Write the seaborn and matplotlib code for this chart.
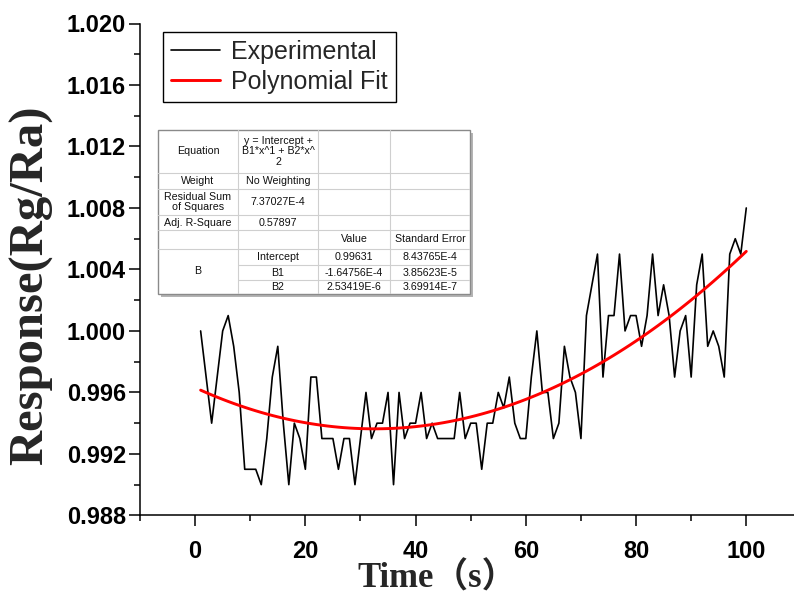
import numpy as np
import pandas as pd
import matplotlib
matplotlib.use("Agg")
import matplotlib.pyplot as plt
import seaborn as sns
from matplotlib.patches import Rectangle
from matplotlib.ticker import MultipleLocator, FormatStrFormatter

# ---------------- data ----------------
time_s = list(range(1, 101))
response = [
    1.000, 0.997, 0.994, 0.997, 1.000, 1.001, 0.999, 0.996, 0.991, 0.991,
    0.991, 0.990, 0.993, 0.997, 0.999, 0.994, 0.990, 0.994, 0.993, 0.991,
    0.997, 0.997, 0.993, 0.993, 0.993, 0.991, 0.993, 0.993, 0.990, 0.993,
    0.996, 0.993, 0.994, 0.994, 0.996, 0.990, 0.996, 0.993, 0.994, 0.994,
    0.996, 0.993, 0.994, 0.993, 0.993, 0.993, 0.993, 0.996, 0.993, 0.994,
    0.994, 0.991, 0.994, 0.994, 0.996, 0.995, 0.997, 0.994, 0.993, 0.993,
    0.997, 1.000, 0.996, 0.996, 0.993, 0.994, 0.999, 0.997, 0.996, 0.993,
    1.001, 1.003, 1.005, 0.997, 1.001, 1.001, 1.005, 1.000, 1.001, 1.001,
    0.999, 1.001, 1.005, 1.001, 1.003, 1.001, 0.997, 1.000, 1.001, 0.997,
    1.003, 1.005, 0.999, 1.000, 0.999, 0.997, 1.005, 1.006, 1.005, 1.008,
]
fit_intercept = 0.99631
fit_b1 = -1.64756e-4
fit_b2 = 2.53419e-6

series_labels = ["Experimental", "Polynomial Fit"]
x_label = "Time\uff08s\uff09"
y_label = "Response(Rg/Ra)"
x_ticks = [0, 20, 40, 60, 80, 100]
y_ticks = [0.988, 0.992, 0.996, 1.000, 1.004, 1.008, 1.012, 1.016, 1.020]

table_rows = [
    ["Equation", "y = Intercept +\nB1*x^1 + B2*x^\n2", "", ""],
    ["Weight", "No Weighting", "", ""],
    ["Residual Sum\nof Squares", "7.37027E-4", "", ""],
    ["Adj. R-Square", "0.57897", "", ""],
    ["", "", "Value", "Standard Error"],
    ["", "Intercept", "0.99631", "8.43765E-4"],
    ["B", "B1", "-1.64756E-4", "3.85623E-5"],
    ["", "B2", "2.53419E-6", "3.69914E-7"],
]

# ---------------- frame ----------------
t = np.array(time_s, dtype=float)
df = pd.DataFrame({
    "time": time_s,
    "Experimental": response,
    "Polynomial Fit": fit_intercept + fit_b1 * t + fit_b2 * t ** 2,
})

sns.set_theme(style="ticks")
plt.rcParams["font.family"] = ["Liberation Sans", "DejaVu Sans"]

W, H = 794, 595
fig = plt.figure(figsize=(W / 100, H / 100), dpi=100)

def px_rect(x0, y0, x1, y1):
    return [x0 / W, 1 - y1 / H, (x1 - x0) / W, (y1 - y0) / H]

AX_L, AX_T, AX_R, AX_B = 140, 23.5, 801.4, 515.4
ax = fig.add_axes(px_rect(AX_L, AX_T, AX_R, AX_B))
AW, AH = AX_R - AX_L, AX_B - AX_T

sns.lineplot(data=df, x="time", y="Experimental", ax=ax, color="black",
             linewidth=1.2, label=series_labels[0])
sns.lineplot(data=df, x="time", y="Polynomial Fit", ax=ax, color="#ff0000",
             linewidth=2.1, label=series_labels[1])

ax.set_xlim(-10, 110)
ax.set_ylim(0.988, 1.020)
ax.set_xticks(x_ticks)
ax.set_yticks(y_ticks)
ax.xaxis.set_minor_locator(MultipleLocator(10))
ax.yaxis.set_minor_locator(MultipleLocator(0.002))
ax.yaxis.set_major_formatter(FormatStrFormatter("%.3f"))

for side in ["top", "right"]:
    ax.spines[side].set_visible(False)
for side in ["left", "bottom"]:
    ax.spines[side].set_linewidth(1.1)
    ax.spines[side].set_color("black")

ax.tick_params(axis="both", which="major", direction="out", length=8,
               width=1.1, colors="black")
ax.tick_params(axis="both", which="minor", direction="out", length=4,
               width=1.1, colors="black")
ax.tick_params(axis="x", which="major", pad=10)
ax.tick_params(axis="y", which="major", pad=2)
for lab in ax.get_xticklabels() + ax.get_yticklabels():
    lab.set_fontweight("bold")
    lab.set_fontsize(17)
    lab.set_fontfamily(["Liberation Sans", "DejaVu Sans"])

ax.set_xlabel(x_label, fontsize=25, fontweight="bold",
              family=["Liberation Serif", "Noto Sans CJK SC"])
ax.xaxis.label.set_va("center")
ax.xaxis.set_label_coords((437 - AX_L) / AW, (AX_B - 579) / AH)
ax.set_ylabel(y_label, fontsize=35, fontweight="bold",
              family=["Liberation Serif", "DejaVu Serif"])
ax.yaxis.label.set_va("center")
ax.yaxis.set_label_coords((31 - AX_L) / AW, (AX_B - 285) / AH)

leg = ax.legend(loc="upper left",
                bbox_to_anchor=((163 - AX_L) / AW, (AX_B - 32) / AH),
                frameon=True, fancybox=False, edgecolor="black",
                prop={"family": ["Liberation Sans"], "size": 18},
                handlelength=1.95, handletextpad=0.45, labelspacing=0.22,
                borderpad=0.32, borderaxespad=0.0)
leg.get_frame().set_linewidth(1.0)
leg.get_frame().set_alpha(1)

# ---------------- fit report table ----------------
tx0, ty0, tx1, ty1 = 158, 130, 470, 294
tab = fig.add_axes(px_rect(tx0, ty0, tx1, ty1))
TW, TH = tx1 - tx0, ty1 - ty0
tab.set_xlim(0, TW)
tab.set_ylim(TH, 0)
tab.axis("off")
col_edges = [0, 80, 160, 232, TW]
row_edges = [0, 43, 59, 85, 100, 119, 135, 150, TH]

tab.add_patch(Rectangle((3, 3), TW, TH, facecolor="#b4b4b4",
                        edgecolor="none", clip_on=False, zorder=0))
tab.add_patch(Rectangle((0, 0), TW, TH, facecolor="white",
                        edgecolor="#8a8a8a", linewidth=1.0, clip_on=False,
                        zorder=1))
grid_c = "#cfcfcf"
for i, y in enumerate(row_edges[1:-1], start=1):
    xs = col_edges[1] if i in (6, 7) else 0
    tab.plot([xs, TW], [y, y], color=grid_c, lw=0.8, zorder=2)
for x in col_edges[1:-1]:
    tab.plot([x, x], [0, TH], color=grid_c, lw=0.8, zorder=2)

for r, row in enumerate(table_rows):
    for c, txt in enumerate(row):
        if not txt:
            continue
        cx = (col_edges[c] + col_edges[c + 1]) / 2
        if c == 0 and txt == "B":
            cy = (row_edges[5] + row_edges[8]) / 2
        else:
            cy = (row_edges[r] + row_edges[r + 1]) / 2
        tab.text(cx, cy, txt, ha="center", va="center", fontsize=7.7,
                 family=["Liberation Sans"], color="#111111",
                 linespacing=1.05, zorder=3)

fig.savefig("out.png", dpi=100)
